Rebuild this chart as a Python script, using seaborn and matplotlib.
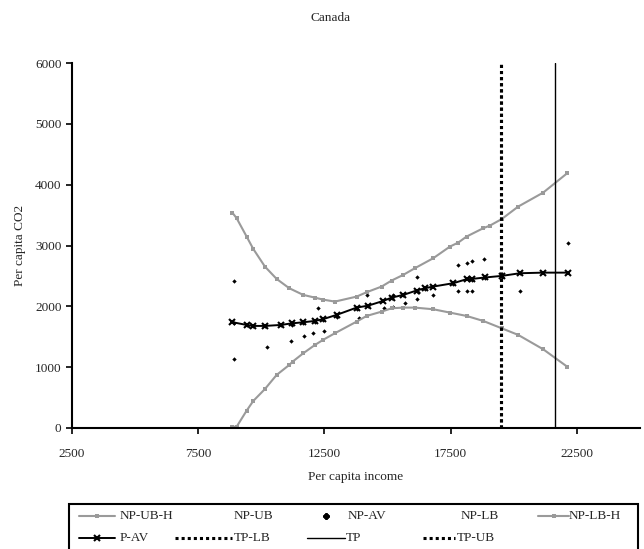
import matplotlib
matplotlib.use("Agg")
import matplotlib.pyplot as plt
from matplotlib.lines import Line2D
from matplotlib.patches import Rectangle
import seaborn as sns

sns.set_style("white")
plt.rcParams['font.family'] = ['Liberation Serif', 'DejaVu Serif']

title = "Canada"
xlabel = "Per capita income"
ylabel = "Per capita CO2"
xticks = [2500, 7500, 12500, 17500, 22500]
yticks = [0, 1000, 2000, 3000, 4000, 5000, 6000]

ub_x = [8849, 9020, 9417, 9680, 10143, 10605, 11105, 11660, 12123, 12450, 12915, 13775, 14171,
        14765, 15160, 15622, 16083, 16810, 17470, 17800, 18130, 18790, 19054, 19516, 20176, 21166, 22116]
ub_y = [3541, 3450, 3147, 2944, 2653, 2451, 2298, 2188, 2143, 2110, 2078, 2160, 2232,
        2325, 2424, 2517, 2627, 2791, 2982, 3048, 3147, 3284, 3327, 3433, 3640, 3870, 4188]

lb_x = [8849, 9020, 9417, 9680, 10143, 10605, 11105, 11240, 11660, 12123, 12450, 12915, 13775, 14171,
        14765, 15160, 15622, 16083, 16810, 17470, 18130, 18790, 19516, 20176, 21166, 22116]
lb_y = [22, 20, 285, 444, 641, 872, 1036, 1091, 1228, 1365, 1450, 1558, 1749, 1842,
        1913, 1968, 1979, 1979, 1952, 1897, 1842, 1760, 1640, 1530, 1294, 1008]

pav_x = [8849, 9417, 9680, 10143, 10770, 11200, 11660, 12123, 12450, 12980, 13775, 14237, 14830,
         15160, 15622, 16150, 16480, 16810, 17600, 18130, 18328, 18856, 19516, 20242, 21166, 22150]
pav_y = [1740, 1694, 1678, 1678, 1694, 1720, 1738, 1760, 1790, 1859, 1979, 2012, 2089,
         2143, 2188, 2260, 2298, 2325, 2380, 2446, 2450, 2474, 2500, 2544, 2554, 2554]

npav_x = [8900, 8900, 8900, 9417, 9680, 10210, 10143, 10770, 11160, 11200, 11690, 11660, 12050, 12250, 12123,
          12480, 12450, 12980, 13880, 13775, 14171, 14237, 14870, 15200, 15200, 15160, 15690, 15622,
          16150, 16150, 16200, 16810, 16480, 17800, 17800, 17600, 18130, 18130, 18328, 18330, 18330,
          18830, 18856, 19516, 20242, 20242, 22150]
npav_y = [2424, 1135, 1720, 1690, 1670, 1337, 1670, 1690, 1431, 1700, 1507, 1720, 1568, 1968, 1740,
          1595, 1770, 1830, 1804, 1960, 2188, 2000, 1968, 1995, 2188, 2140, 2056, 2180,
          2474, 2117, 2240, 2188, 2290, 2681, 2260, 2370, 2719, 2260, 2752, 2260, 2440,
          2780, 2470, 2490, 2260, 2540, 3048]

tp_lb = 19500
tp = 21630
tp_ub = 19500

legend_labels = ["NP-UB-H", "NP-UB", "NP-AV", "NP-LB", "NP-LB-H",
                 "P-AV", "TP-LB", "TP", "TP-UB"]

gray = "#9a9a9a"
FS = 9.5
W, H = 644, 549

fig = plt.figure(figsize=(6.44, 5.49), dpi=100)
ax = fig.add_axes([72 / W, 1 - 428 / H, (640 - 72) / W, (428 - 63) / H])

sns.lineplot(x=ub_x, y=ub_y, ax=ax, sort=False, color=gray, lw=1.5,
             marker="s", markersize=2.5, markeredgewidth=0, estimator=None)
sns.lineplot(x=lb_x, y=lb_y, ax=ax, sort=False, color=gray, lw=1.5,
             marker="s", markersize=2.5, markeredgewidth=0, estimator=None)
sns.scatterplot(x=npav_x, y=npav_y, ax=ax, color="black", marker="D", s=5, linewidth=0)
sns.lineplot(x=pav_x, y=pav_y, ax=ax, sort=False, color="black", lw=1.4,
             marker="x", markersize=5, markeredgewidth=1.5, markeredgecolor="black",
             estimator=None)

dotted = (0, (1, 1))
ax.axvline(tp_lb, color="black", lw=2.2, ls=dotted)
ax.axvline(tp_ub, color="black", lw=2.2, ls=dotted)
ax.axvline(tp, color="black", lw=1.0)

ax.set_xlim(2500, 25000)
ax.set_ylim(0, 6000)
ax.set_xticks(xticks)
ax.set_yticks(yticks)
ax.set_xticklabels([str(v) for v in xticks])
ax.set_yticklabels([str(v) for v in yticks])
for s in ["top", "right"]:
    ax.spines[s].set_visible(False)
for s in ["left", "bottom"]:
    ax.spines[s].set_color("black")
    ax.spines[s].set_linewidth(1.5)
ax.tick_params(axis="both", direction="out", length=4.5, width=1.2, color="black",
               labelsize=FS, bottom=True, left=True)
ax.tick_params(axis="x", pad=10)
ax.tick_params(axis="y", pad=3)
ax.set_xlabel("")
ax.set_ylabel("")
fig.text(356 / W, 1 - 477 / H, xlabel, ha="center", va="center", fontsize=FS)
fig.text(20 / W, 1 - 245 / H, ylabel, ha="center", va="center", rotation=90, fontsize=FS)
fig.text(331 / W, 1 - 18 / H, title, ha="center", va="center", fontsize=FS)

# legend (Excel-style, fixed column positions)
fig.patches.append(Rectangle((69 / W, -0.01), (638 - 69) / W, 0.01 + 1 - 504 / H,
                             transform=fig.transFigure, fill=False, edgecolor="black",
                             lw=1.5, figure=fig))
row1, row2 = 516, 538
entries = [
    # (label, handle x0, handle x1, text x, row, style)
    (legend_labels[0], 79, 115, 120, row1, dict(color=gray, lw=1.5, marker="s", markersize=2.5, markeredgewidth=0, markevery=[1])),
    (legend_labels[1], None, None, 234, row1, None),
    (legend_labels[2], 326, 326, 348, row1, dict(color="black", lw=0, marker="D", markersize=3)),
    (legend_labels[3], None, None, 461, row1, None),
    (legend_labels[4], 538, 569, 569, row1, dict(color=gray, lw=1.5, marker="s", markersize=2.5, markeredgewidth=0, markevery=[1])),
    (legend_labels[5], 79, 115, 120, row2, dict(color="black", lw=1.4, marker="x", markersize=5, markeredgewidth=1.5, markevery=[1])),
    (legend_labels[6], 175, 232, 234, row2, dict(color="black", lw=2.2, ls=dotted)),
    (legend_labels[7], 307, 345, 346, row2, dict(color="black", lw=1.0)),
    (legend_labels[8], 423, 455, 457, row2, dict(color="black", lw=2.2, ls=dotted)),
]
for lab, x0, x1, tx, ry, st in entries:
    if st is not None:
        xm = (x0 + x1) / 2
        fig.lines.append(Line2D([x0 / W, xm / W, x1 / W], [1 - ry / H] * 3,
                                transform=fig.transFigure, figure=fig, **st))
    fig.text(tx / W, 1 - ry / H, lab, ha="left", va="center", fontsize=FS)

fig.savefig("out.png", dpi=100, facecolor="white")
